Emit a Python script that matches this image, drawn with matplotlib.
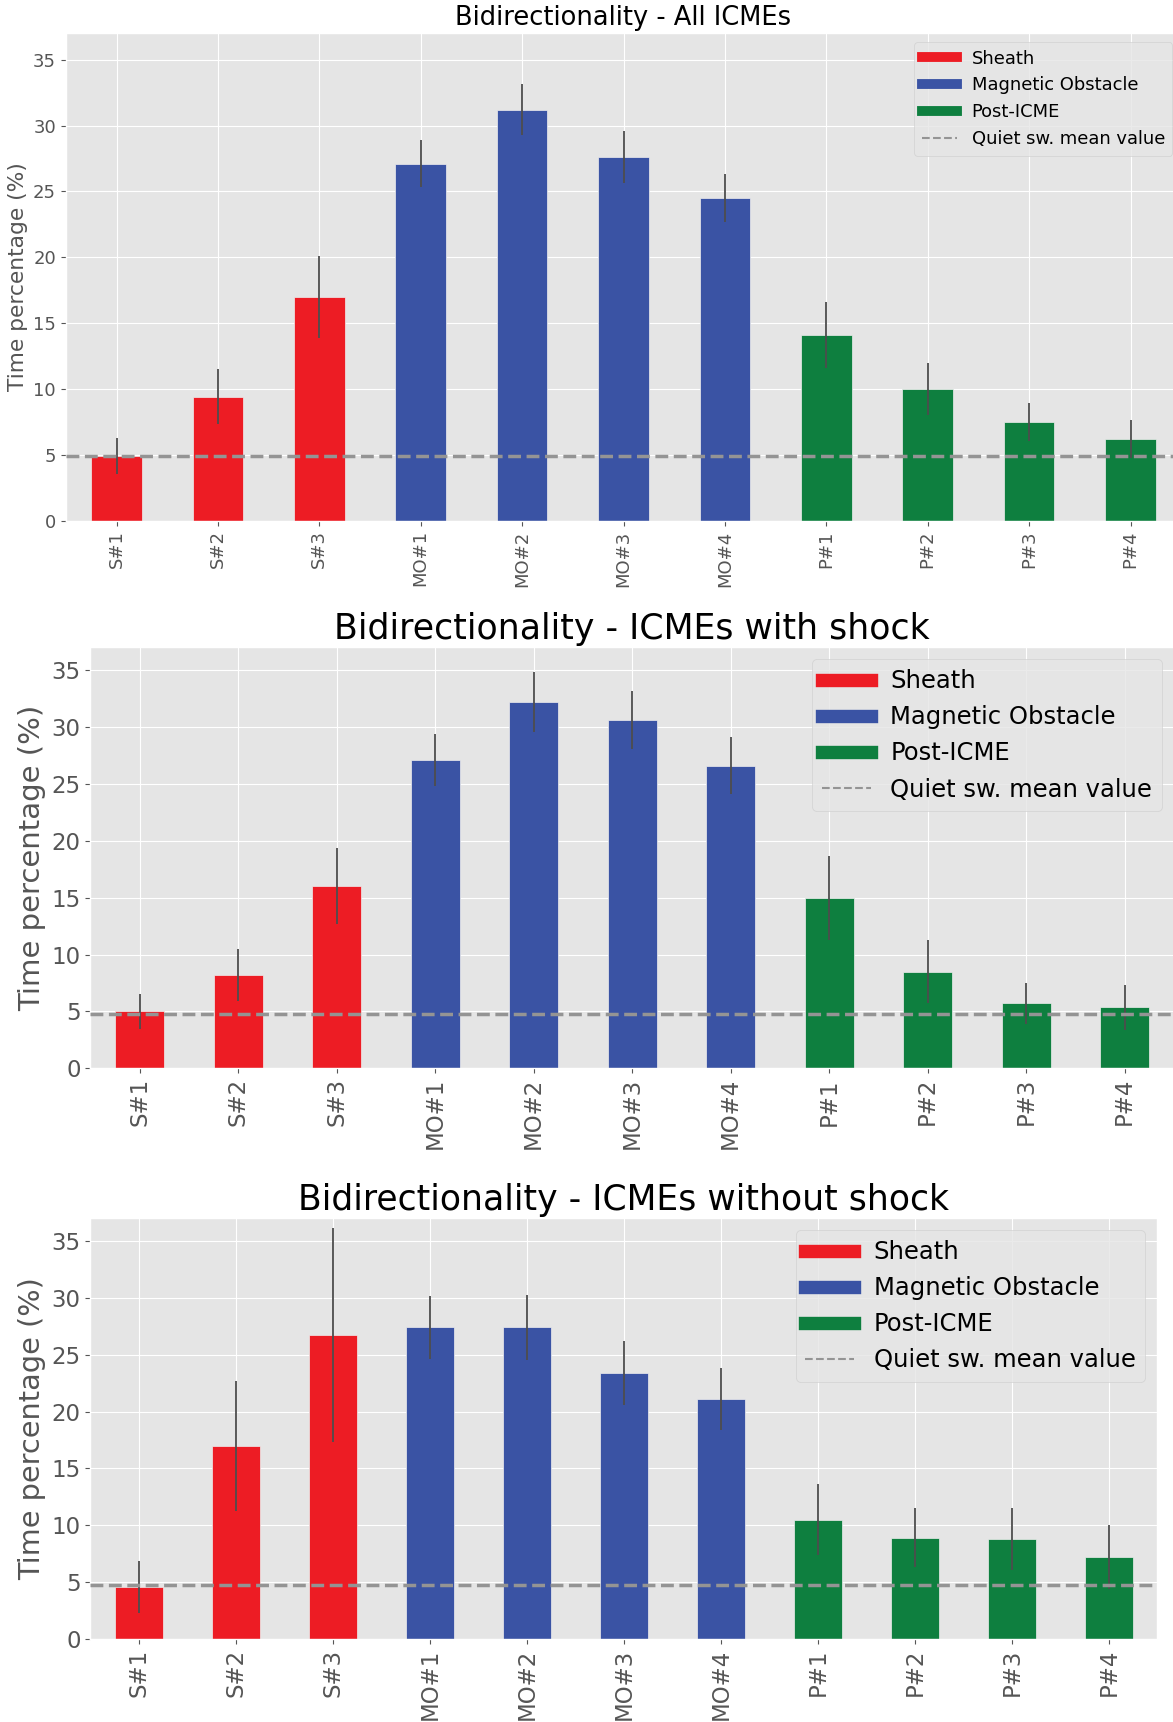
import numpy as np
import matplotlib
matplotlib.use("Agg")
import matplotlib.pyplot as plt
from matplotlib.lines import Line2D

plt.style.use("ggplot")

# categories: sheath, magnetic obstacle and post-ICME sub-intervals
labels = ["S#1", "S#2", "S#3", "MO#1", "MO#2", "MO#3", "MO#4", "P#1", "P#2", "P#3", "P#4"]
region = ["S", "S", "S", "MO", "MO", "MO", "MO", "P", "P", "P", "P"]

# time percentage (%) with bidirectional electrons and its uncertainty
all_vals = [4.9, 9.4, 17.0, 27.1, 31.2, 27.6, 24.5, 14.1, 10.0, 7.5, 6.2]
all_err = [1.35, 2.1, 3.1, 1.8, 1.95, 1.95, 1.8, 2.5, 2.0, 1.45, 1.45]

shock_vals = [5.0, 8.2, 16.0, 27.1, 32.2, 30.6, 26.6, 15.0, 8.5, 5.7, 5.35]
shock_err = [1.55, 2.3, 3.35, 2.3, 2.6, 2.55, 2.5, 3.7, 2.8, 1.8, 1.95]

noshock_vals = [4.6, 17.0, 26.7, 27.4, 27.4, 23.4, 21.1, 10.5, 8.9, 8.8, 7.25]
noshock_err = [2.3, 5.7, 9.4, 2.8, 2.85, 2.8, 2.7, 3.1, 2.6, 2.7, 2.8]

# quiet solar wind mean value
quiet = [4.92, 4.77, 4.78]

titles = ["Bidirectionality - All ICMEs",
          "Bidirectionality - ICMEs with shock",
          "Bidirectionality - ICMEs without shock"]

colors = {"S": "#ED1C24", "MO": "#3A53A4", "P": "#0E7F3F"}
names = {"S": "Sheath", "MO": "Magnetic Obstacle", "P": "Post-ICME"}

fig = plt.figure(figsize=(11.73, 17.22), dpi=100)

# [left, bottom, width, height], tick / label / title / legend sizes
panels = [
    ([0.0561, 0.6977, 0.9509, 0.2829], 13, 15.7, 18.5, 12.9),
    ([0.0771, 0.3796, 0.9237, 0.2445], 16.5, 21, 25, 17.5),
    ([0.0771, 0.0481, 0.9095, 0.2445], 16.5, 20.7, 24.9, 17.5),
]
data = [(all_vals, all_err), (shock_vals, shock_err), (noshock_vals, noshock_err)]

x = np.arange(len(labels))
bar_colors = [colors[r] for r in region]

for k, (pos, fs_tick, fs_lab, fs_title, fs_leg) in enumerate(panels):
    ax = fig.add_axes(pos)
    vals, err = data[k]
    ax.bar(x, vals, width=0.5, yerr=err, color=bar_colors,
           edgecolor="#EEEEEE", linewidth=0.5,
           error_kw=dict(ecolor="#4D4D4D", elinewidth=1.3, capsize=0))
    ax.axhline(quiet[k], color="#949494", linestyle="--", linewidth=2.5, zorder=3)
    ax.set_xlim(-0.5, len(labels) - 0.5)
    ax.set_ylim(0, 37)
    ax.set_yticks(np.arange(0, 36, 5))
    ax.set_xticks(x)
    ax.set_xticklabels(labels, rotation=90)
    ax.tick_params(axis="both", labelsize=fs_tick, colors="#555555")
    ax.set_ylabel("Time percentage (%)", fontsize=fs_lab, color="#555555")
    ax.set_title(titles[k], fontsize=fs_title, color="black")

    handles = [Line2D([0], [0], color=colors[r], linewidth=fs_leg * 0.55) for r in ["S", "MO", "P"]]
    handles.append(Line2D([0], [0], color="#949494", linestyle="--", linewidth=1.5))
    leg_labels = [names[r] for r in ["S", "MO", "P"]] + ["Quiet sw. mean value"]
    ax.legend(handles, leg_labels, loc="upper right", fontsize=fs_leg)

fig.savefig("out.png", dpi=100)
